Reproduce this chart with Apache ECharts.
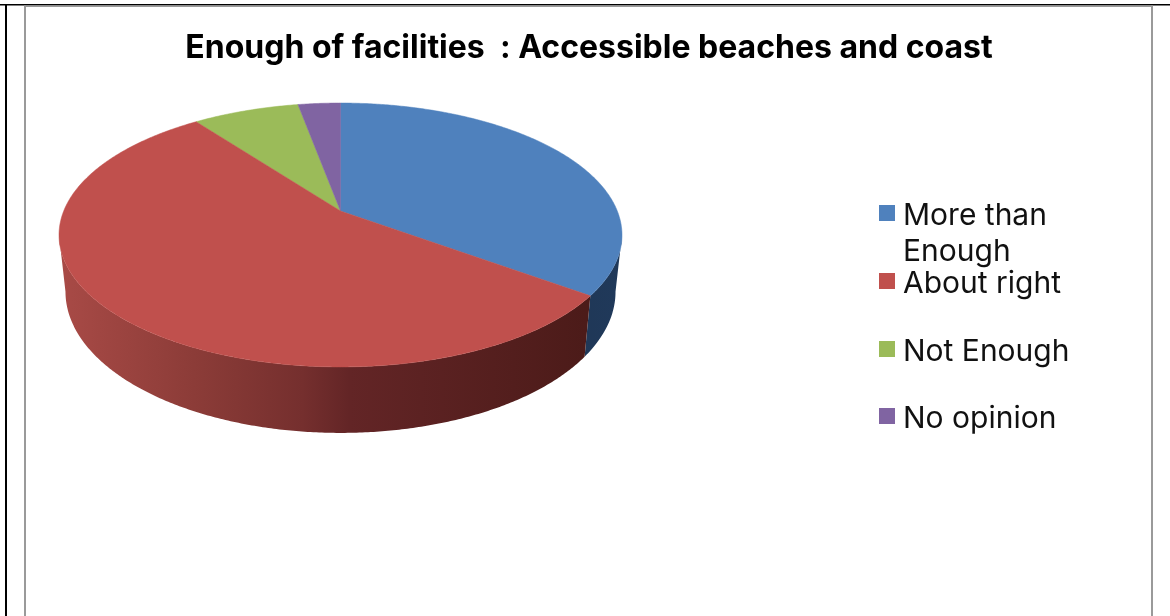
<!DOCTYPE html>
<html>
<head>
<meta charset="utf-8">
<title>Enough of facilities</title>
<script src="https://cdn.jsdelivr.net/npm/echarts@6/dist/echarts.min.js"></script>
<style>
html,body{margin:0;padding:0;background:#fff;}
#chart{width:1170px;height:616px;}
</style>
</head>
<body>
<div id="chart"></div>
<script>
var titleText='Enough of facilities  : Accessible beaches and coast';
var categories=['More than Enough','About right','Not Enough','No opinion'];
var shares=[35.1,54.7,7.3,2.9];
var topColors=['#4F81BD','#C0504D','#9BBB59','#8064A2'];
var legendTops=[159,263,331,398];

//pie geometry, the tilted disc has perspective so the apex is not the ellipse centre
var apexX=340.5,apexY=211;
var persp=0.1818,scaleU=276.8,scaleV=127.6;
var shrink=0.977;

var total=0;
for(var t=0;t<shares.length;t++){total+=shares[t];}
var starts=[];
var run=0;
for(var s=0;s<shares.length;s++){
    starts.push(run/total*360);
    run+=shares[s];
}

var project=function(deg){
    var a=deg*Math.PI/180;
    var u=Math.sin(a),v=-Math.cos(a);
    var w=1-persp*v;
    return [apexX+scaleU*u/w,apexY+scaleV*v/w];
};
var lower=function(p){
    return [apexX+(p[0]-apexX)*shrink,p[1]+61+(p[1]-296)*0.07];
};
var arc=function(from,to){
    var pts=[];
    var n=Math.max(2,Math.ceil((to-from)/0.5));
    for(var i=0;i<=n;i++){pts.push(project(from+(to-from)*i/n));}
    return pts;
};

//visible part of the wall runs between the two horizontal extremes of the ellipse
var wallFrom=Math.acos(-persp)*180/Math.PI;
var wallTo=360-wallFrom;

var wallFills=[
    {type:'linear',x:500,y:0,x2:622,y2:0,global:true,colorStops:[{offset:0,color:'#1E3552'},{offset:1,color:'#20395A'}]},
    {type:'linear',x:62,y:0,x2:585,y2:0,global:true,colorStops:[
        {offset:0,color:'#A84A46'},
        {offset:0.27,color:'#8A3B37'},
        {offset:0.46,color:'#752F2E'},
        {offset:0.55,color:'#632526'},
        {offset:1,color:'#4C1B19'}
    ]},
    '#6F8A3F',
    '#5C4878'
];

var makeRender=function(idx){
    return function(params,api){
        var from=starts[idx];
        var to=from+api.value(0)/total*360;
        var children=[];
        var a=Math.max(from,wallFrom),b=Math.min(to,wallTo);
        if(b>a){
            var upper=arc(a,b);
            var wall=upper.slice();
            for(var i=upper.length-1;i>=0;i--){wall.push(lower(upper[i]));}
            children.push({type:'polygon',shape:{points:wall},style:{fill:wallFills[idx]}});
        }
        var face=[[apexX,apexY]].concat(arc(from,to));
        children.push({type:'polygon',shape:{points:face},style:{fill:topColors[idx],stroke:topColors[idx],lineWidth:0.5}});
        return {type:'group',children:children};
    };
};

var seriesList=[];
var legends=[];
for(var k=0;k<categories.length;k++){
    seriesList.push({
        type:'custom',
        name:categories[k],
        coordinateSystem:'none',
        renderItem:makeRender(k),
        itemStyle:{color:topColors[k]},
        data:[[shares[k]]],
        silent:true,
        z:k==1?3:2
    });
    legends.push({
        data:[categories[k]],
        left:879,
        top:legendTops[k],
        orient:'vertical',
        padding:0,
        icon:'rect',
        itemWidth:16,
        itemHeight:16,
        selectedMode:false,
        //blank first line keeps the square level with "More than"
        formatter:function(name){return name=='More than Enough'?'\n{t|More than}\n{t|Enough}':'{t|'+name+'}';},
        textStyle:{
            fontFamily:'Inter',
            fontSize:30,
            lineHeight:36,
            color:'#111',
            rich:{t:{fontFamily:'Inter',fontSize:30,color:'#111',lineHeight:36,padding:[5,0,0,3]}}
        }
    });
}

var myChart=echarts.init(document.getElementById('chart'),null,{renderer:'canvas'});
myChart.setOption({
    animation:false,
    backgroundColor:'#fff',
    title:{
        text:titleText,
        left:589,
        top:32,
        textAlign:'center',
        padding:0,
        textStyle:{fontFamily:'Inter',fontWeight:'bold',fontSize:32,color:'#000'}
    },
    legend:legends,
    graphic:[
        {type:'rect',shape:{x:0,y:4,width:1170,height:1.5},style:{fill:'#000'},silent:true},
        {type:'rect',shape:{x:5,y:5,width:2,height:611},style:{fill:'#000'},silent:true},
        {type:'rect',shape:{x:24,y:5.5,width:1129,height:1.5},style:{fill:'#9a9a9a'},silent:true},
        {type:'rect',shape:{x:24,y:5.5,width:2,height:611},style:{fill:'#9a9a9a'},silent:true},
        {type:'rect',shape:{x:1151,y:5.5,width:2,height:611},style:{fill:'#9a9a9a'},silent:true}
    ],
    series:seriesList
});
window.onresize=myChart.resize;
</script>
</body>
</html>
